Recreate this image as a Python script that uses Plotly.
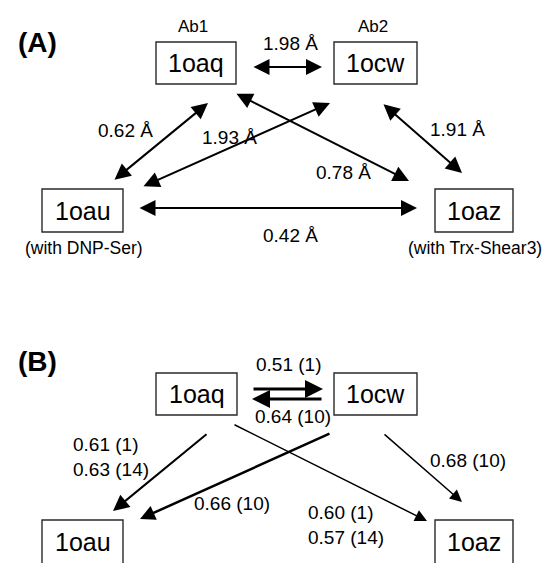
import plotly.graph_objects as go

# ---- data -------------------------------------------------------------
structures = ["1oaq", "1ocw", "1oau", "1oaz"]
antibody_tags = ["Ab1", "Ab2"]
ligand_notes = ["(with DNP-Ser)", "(with Trx-Shear3)"]

# panel A: pairwise backbone RMSD between crystal structures (Å)
pairs_a = [("1oaq", "1ocw"), ("1oau", "1oaq"), ("1oau", "1ocw"),
           ("1oaq", "1oaz"), ("1ocw", "1oaz"), ("1oau", "1oaz")]
rmsd_a = [1.98, 0.62, 1.93, 0.78, 1.91, 0.42]

# panel B: RMSD of predicted models, with the rank of the model in brackets
pairs_b = [("1oaq", "1ocw"), ("1ocw", "1oaq"), ("1oaq", "1oau"),
           ("1ocw", "1oau"), ("1oaq", "1oaz"), ("1ocw", "1oaz")]
rmsd_b = [[0.51], [0.64], [0.61, 0.63], [0.66], [0.60, 0.57], [0.68]]
rank_b = [[1], [10], [1, 14], [10], [1, 14], [10]]

# ---- geometry (page pixels, y grows downwards) -------------------------
W, H = 559, 563
FONT = "Arial, Liberation Sans, sans-serif"

boxes_a = {"1oaq": (156, 42, 236, 84), "1ocw": (334, 42, 417, 84),
           "1oau": (42, 189, 123, 232), "1oaz": (435, 189, 513, 232)}
boxes_b = {"1oaq": (156, 373, 237, 415), "1ocw": (334, 373, 417, 415),
           "1oau": (42, 520, 123, 566), "1oaz": (435, 520, 513, 566)}

# arrows: (tail x, tail y, head x, head y, line width)
arrows_a = [(252, 67, 322, 67, 2), (113, 181, 208, 103, 2),
            (142, 187, 330, 103, 2), (235, 93, 409, 181, 2),
            (382, 103, 462, 173, 2), (138, 208, 417, 208, 2)]
labels_a = [(290, 43), (125, 130), (229, 137), (343, 172), (457, 129), (290, 235)]

arrows_b = [(252, 389, 323, 389, 3), (323, 399, 252, 399, 3),
            (208, 433, 113, 511, 2), (331, 433, 140, 519, 2.5),
            (233, 424, 427, 521, 1.5), (383, 433, 462, 502, 1.5)]
# (x, y, xanchor)
labels_b = [(288, 364, "center"), (293, 416, "center"), (71, 457, "left"),
            (232, 503, "center"), (306, 525, "left"), (468, 460, "center")]

fig = go.Figure()
shapes, notes = [], []


def add_box(name, rect):
    x0, y0, x1, y1 = rect
    shapes.append(dict(type="rect", xref="x", yref="y", x0=x0, y0=y0, x1=x1, y1=y1,
                       line=dict(color="#2a2a2a", width=1.4), fillcolor="white"))
    notes.append(dict(x=(x0 + x1) / 2, y=(y0 + min(y1, y0 + 43)) / 2, text=name,
                      showarrow=False, font=dict(size=25, color="black", family=FONT)))


def add_arrow(a, both):
    tx, ty, hx, hy, w = a
    notes.append(dict(x=hx, y=hy, ax=tx, ay=ty, xref="x", yref="y", axref="x", ayref="y",
                      text="", showarrow=True, arrowhead=2, startarrowhead=2,
                      arrowside="end+start" if both else "end",
                      arrowsize=1.6 if w < 2.5 else 1.2, startarrowsize=1.6,
                      arrowwidth=w, arrowcolor="black", standoff=0, startstandoff=0))


for name in structures:
    add_box(name, boxes_a[name])
    add_box(name, boxes_b[name])

# antibody and ligand captions
for tag, name in zip(antibody_tags, structures[:2]):
    x0, y0, x1, _ = boxes_a[name]
    notes.append(dict(x=(x0 + x1) / 2 - 3, y=26, text=tag, showarrow=False,
                      font=dict(size=17, color="black", family=FONT)))
for note, name in zip(ligand_notes, structures[2:]):
    x0, _, x1, y1 = boxes_a[name]
    notes.append(dict(x=(x0 + x1) / 2 + 1, y=y1 + 16, text=note, showarrow=False,
                      font=dict(size=17.5, color="black", family=FONT)))

# panel A edges
for (p, q), v, a, (lx, ly) in zip(pairs_a, rmsd_a, arrows_a, labels_a):
    add_arrow(a, both=True)
    notes.append(dict(x=lx, y=ly, text=f"{v:.2f} Å", showarrow=False,
                      font=dict(size=19, color="black", family=FONT)))

# panel B edges
for (p, q), vs, rs, a, (lx, ly, anc) in zip(pairs_b, rmsd_b, rank_b, arrows_b, labels_b):
    add_arrow(a, both=False)
    txt = "<br>".join(f"{v:.2f} ({r})" for v, r in zip(vs, rs))
    notes.append(dict(x=lx, y=ly, text=txt, showarrow=False, xanchor=anc, align="left",
                      font=dict(size=19, color="black", family=FONT)))

# panel letters
for letter, y in [("(A)", 42), ("(B)", 361)]:
    notes.append(dict(x=37, y=y, text=f"<b>{letter}</b>", showarrow=False,
                      font=dict(size=28, color="black", family=FONT)))

fig.update_layout(
    width=W, height=H, margin=dict(l=0, r=0, t=0, b=0),
    paper_bgcolor="white", plot_bgcolor="white", showlegend=False,
    xaxis=dict(range=[0, W], visible=False, fixedrange=True),
    yaxis=dict(range=[H, 0], visible=False, fixedrange=True),
    shapes=shapes, annotations=notes,
)
fig.write_html("out.html")
